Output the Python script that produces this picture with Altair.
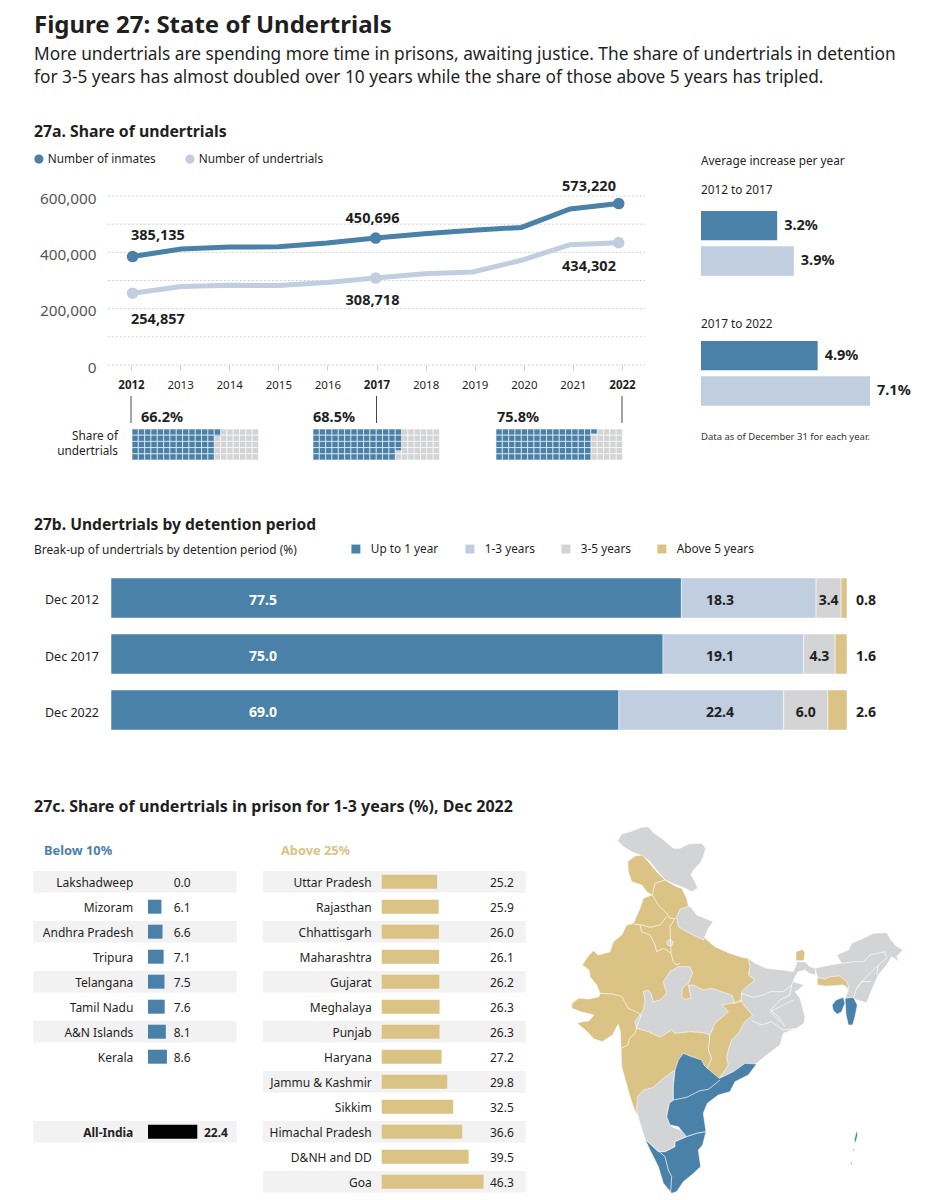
import altair as alt
import pandas as pd

FONT = "Noto Sans"
INK = "#1f1f1f"
BLUE = "#4A81A8"
LIGHT = "#C0CEDF"
GRAY = "#D3D4D6"
GOLD = "#DBC285"
STRIPE = "#F2F2F2"
TOTAL_W, TOTAL_H = 917, 1192

# ---------- data ----------
years = [2012, 2013, 2014, 2015, 2016, 2017, 2018, 2019, 2020, 2021, 2022]
inmates = [385135, 411992, 418536, 419623, 433003, 450696, 466084, 478600, 488511, 554034, 573220]
undertrials = [254857, 278503, 282879, 282076, 293058, 308718, 323537, 330487, 371848, 427165, 434302]
key_years = [2012, 2017, 2022]
shares = [66.2, 68.5, 75.8]
grid_values = [0, 100000, 200000, 300000, 400000, 500000, 600000]
increase_a = [3.2, 3.9]
increase_b = [4.9, 7.1]
periods = ["Dec 2012", "Dec 2017", "Dec 2022"]
up_to_1 = [77.5, 75.0, 69.0]
one_to_3 = [18.3, 19.1, 22.4]
three_to_5 = [3.4, 4.3, 6.0]
above_5 = [0.8, 1.6, 2.6]
detention = ["Up to 1 year", "1-3 years", "3-5 years", "Above 5 years"]
below_names = ["Lakshadweep", "Mizoram", "Andhra Pradesh", "Tripura", "Telangana", "Tamil Nadu", "A&N Islands", "Kerala"]
below_values = [0.0, 6.1, 6.6, 7.1, 7.5, 7.6, 8.1, 8.6]
india_value = [22.4]
above_names = ["Uttar Pradesh", "Rajasthan", "Chhattisgarh", "Maharashtra", "Gujarat", "Meghalaya", "Punjab", "Haryana",
               "Jammu & Kashmir", "Sikkim", "Himachal Pradesh", "D&NH and DD", "Goa"]
above_values = [25.2, 25.9, 26.0, 26.1, 26.2, 26.3, 26.3, 27.2, 29.8, 32.5, 36.6, 39.5, 46.3]


# map outlines; each outline is given in the frame it was read from
def N(*p):
    return [(565 + x / 3, 820 + y / 3) for x, y in p]


def S(*p):
    return [(620 + x / 3, 1000 + y / 3) for x, y in p]


def E(*p):
    return [(730 + x / 3, 920 + y / 3) for x, y in p]


def M(*p):
    return [(560 + x / 2.95, 815 + y / 3) for x, y in p]


map_shapes = [
    ("gray", N((158,62),(170,42),(195,35),(230,22),(250,20),(265,38),(290,55),(310,72),(325,85),(345,85),(370,72),(410,70),(422,85),(415,110),(405,130),(385,150),(378,165),(390,185),(398,205),(380,215),(360,205),(335,195),(300,180),(275,150),(250,120),(225,105),(200,95),(175,80))),
    ("gray", E((30,150),(55,115),(75,130),(110,145),(155,150),(190,155),(200,130),(198,125),(225,125),(240,140),(258,145),(255,165),(238,160),(225,150),(205,155),(195,170),(190,185),(205,190),(222,195),(205,210),(195,215),(210,235),(225,290),(222,310)) + S((530,85),(490,100),(480,135),(440,165),(410,190),(298,235),(280,100))),
    ("gray", E((255,145),(300,135),(335,130),(320,105),(355,90),(365,70),(400,55),(430,40),(470,38),(480,55),(495,75),(518,90),(500,110),(508,125),(485,110),(470,135),(445,165),(425,210),(410,248),(380,240),(370,235),(345,235),(355,210),(340,195),(300,198),(262,195),(262,170))),
    ("gold", N((188,125),(210,108),(232,105),(250,125),(275,155),(300,180),(335,200),(350,205),(365,235),(372,265),(420,355),(450,380),(490,398),(530,412),(550,415),(555,440),(550,465),(570,480),(545,500),(530,515),(528,545))
             + S((340,10),(362,0),(375,20),(398,45),(375,65),(355,100),(335,120),(325,150),(320,170),(325,195),(305,225),(298,235),(260,260),(120,290),(55,338),(48,340),(40,320),(30,290),(5,200))
             + M((180,700),(178,650),(172,628),(165,640),(155,660),(125,680),(100,672),(75,645),(50,625),(65,620),(85,618),(100,600),(60,590),(35,580),(35,565),(55,550),(85,552),(115,545))
             + N((105,520),(95,495),(75,470),(72,450),(52,435),(68,410),(85,392),(100,405),(135,395),(145,365),(170,345),(185,315),(205,310),(225,265),(235,235),(260,225),(245,215),(230,195),(200,185),(190,155))),
    ("gray", N((345,268),(372,258),(380,265),(395,285),(420,295),(445,305),(430,325),(415,360),(395,350),(365,335),(340,320),(335,290))),
    ("gray", N((305,365),(315,358),(325,365),(320,378),(308,375))),
    ("gray", N((235,515),(250,510),(258,520),(265,545),(285,540),(305,520),(300,505),(295,485),(315,455),(340,440),(375,440),(383,460),(370,490),(352,505),(350,530),(360,538),(378,535),(370,495),(385,495),(415,510),(440,505),(470,515),(500,525),(510,548))
             + S((305,15),(325,35),(285,70),(270,105),(250,98),(210,95),(165,100),(155,90),(120,112),(85,95),(50,85),(45,65),(70,30),(75,0))),
    ("gold", E((198,95),(218,88),(225,100),(222,122),(198,122))),
    ("gold", E((262,172),(285,178),(300,170),(330,168),(350,185),(358,205),(340,195),(310,197),(285,198),(262,195))),
    ("blue", E((306,255),(318,240),(340,232),(345,250),(335,275),(322,283),(310,272))),
    ("blue", E((345,235),(370,232),(382,255),(375,290),(368,315),(355,315),(348,285))),
    ("gray", S((50,335),(52,290),(70,270),(100,262),(130,235),(165,210),(160,260),(160,300),(148,310),(140,350),(155,380),(195,395),(200,410),(165,425),(165,440),(135,455),(115,455),(75,418),(62,375))),
    ("blue", S((190,160),(215,170),(245,180),(252,195),(262,205),(298,235),(340,215),(375,190),(410,192),(385,225),(345,245),(330,275),(295,285),(262,310),(250,340),(258,395),(230,400),(200,410),(175,380),(150,375),(140,350),(148,310),(160,300),(160,260),(165,210),(175,180))),
    ("blue", S((75,418),(115,455),(135,455),(165,440),(165,425),(200,410),(230,400),(258,395),(248,435),(235,450),(242,500),(215,525),(190,545),(170,575),(155,580),(130,550),(115,500),(90,450))),
    ("blue", M((875,945),(878,960),(872,985),(868,975))),
    ("blue", M((865,1000),(868,1005),(863,1010))),
    ("blue", M((858,1040),(862,1045),(858,1050))),
]
map_borders = [
    N((300,180),(270,190),(262,225),(280,255),(305,280),(315,295),(330,295)),
    N((205,312),(230,315),(255,322),(285,315),(305,290)),
    N((225,315),(230,335),(255,345),(270,375),(275,395),(295,385),(305,390),(318,400),(325,425),(335,435),(345,430)),
    N((330,295),(315,320),(318,400)),
    N((105,520),(145,522),(170,530),(190,565)) + M((225,590),(240,600),(228,630),(222,655),(205,670),(200,690),(180,700)),
    S((270,105),(265,150),(275,175),(262,205)),
    E((35,220),(70,232),(100,225),(120,215),(160,215),(185,195),(190,185)),
    E((185,195),(180,225),(150,240),(122,270),(145,290),(165,320)),
    S((395,62),(425,75),(455,65),(490,90),(525,85)),
    S((450,35),(480,20),(520,0)),
    S((450,35),(480,65)),
    E((335,130),(370,125),(400,125),(420,105),(465,95),(470,115),(445,135),(425,155),(400,180),(380,205),(370,235)),
    E((445,135),(440,165)),
    E((380,205),(395,185),(425,185)),
    S((118,455),(135,470),(145,510),(155,530),(152,575)),
    S((160,300),(200,292),(240,272),(265,268),(300,240)),
]


def px(v):
    return v - 8


def text(t, x, y, size=12, weight="normal", color=INK, align="left"):
    return (alt.Chart(pd.DataFrame({"t": [t]}))
            .mark_text(font=FONT, fontSize=size, fontWeight=weight, color=color, align=align, baseline="middle")
            .encode(x=alt.value(px(x)), y=alt.value(px(y + 1)), text="t:N"))


layers = []

# ---------- headings ----------
layers += [
    text("Figure 27: State of Undertrials", 34, 25, 24, "bold"),
    text("More undertrials are spending more time in prisons, awaiting justice. The share of undertrials in detention", 34, 54, 17.3),
    text("for 3-5 years has almost doubled over 10 years while the share of those above 5 years has tripled.", 34, 77, 17.3),
    text("27a. Share of undertrials", 34, 131, 15.8, "bold"),
    text("27b. Undertrials by detention period", 34, 524, 15.6, "bold"),
    text("27c. Share of undertrials in prison for 1-3 years (%), Dec 2022", 34, 806, 16, "bold"),
]

# ---------- 27a line chart ----------
y_line = alt.Scale(domain=[0, 600000], range=[px(365), px(196)])
x_line = alt.Scale(domain=[2012, 2022], range=[px(132.6), px(618.7)])
x_ticks = alt.Scale(domain=[2012, 2022], range=[px(131), px(622)])

layers.append(
    alt.Chart(pd.DataFrame({"v": grid_values})).mark_rule(strokeDash=[2, 2], color="#c9c9c9", strokeWidth=0.9).encode(
        y=alt.Y("v:Q", scale=y_line, axis=alt.Axis(
            values=[0, 200000, 400000, 600000], format=",d", orient="left", offset=-px(100), title=None,
            domain=False, ticks=False, grid=False, labelPadding=4, labelFont=FONT, labelFontSize=15.3,
            labelOffset=2, labelColor="#555555")),
        x=alt.value(px(107.7)), x2=alt.value(px(644.8)))
)
layers.append(
    alt.Chart(pd.DataFrame({"year": key_years})).mark_rule(color="#333333", strokeWidth=0.9).encode(
        x=alt.X("year:Q", scale=x_ticks, axis=alt.Axis(
            values=years, format="d", orient="bottom", offset=-(TOTAL_H - px(365)), title=None, domain=False,
            grid=False, tickSize=5, tickColor="#cccccc", labelPadding=9, labelFont=FONT, labelFontSize=11.5,
            labelColor=INK, labelFlush=False,
            labelFontWeight=alt.expr("indexof([2012,2017,2022],datum.value)>=0?'bold':'normal'"))),
        y=alt.value(px(396)), y2=alt.value(px(423)))
)
long_line = pd.DataFrame({
    "year": years * 2,
    "value": inmates + undertrials,
    "series": ["Number of inmates"] * len(years) + ["Number of undertrials"] * len(years),
})
series_scale = alt.Scale(domain=["Number of inmates", "Number of undertrials"], range=[BLUE, LIGHT])
layers.append(
    alt.Chart(long_line).mark_line(strokeWidth=5, interpolate="linear").encode(
        x=alt.X("year:Q", scale=x_line, axis=None), y=alt.Y("value:Q", scale=y_line, axis=None),
        color=alt.Color("series:N", scale=series_scale, legend=None), detail="series:N")
)
layers.append(
    alt.Chart(long_line[long_line.year.isin(key_years)]).mark_circle(size=135, opacity=1).encode(
        x=alt.X("year:Q", scale=x_line, axis=None), y=alt.Y("value:Q", scale=y_line, axis=None),
        color=alt.Color("series:N", scale=series_scale, legend=alt.Legend(
            orient="none", legendX=px(33), legendY=px(153), direction="horizontal", title=None, symbolType="circle",
            symbolSize=85, symbolOpacity=1, labelFont=FONT, labelFontSize=11.8, labelColor=INK, columnPadding=28,
            labelOffset=3)))
)
for t, x, y, a in [("385,135", 131, 235, "left"), ("450,696", 372.5, 217.5, "center"), ("573,220", 589, 186, "center"),
                   ("254,857", 131, 318.7, "left"), ("308,718", 372.5, 300, "center"), ("434,302", 589, 266, "center")]:
    layers.append(text(t, x, y, 14.5, "bold", align=a))

# waffles
for share, x0, lx in zip(shares, [132, 313, 496], [141, 313, 497]):
    cells = []
    for c in range(20):
        for r in range(5):
            frac = max(0.0, min(1.0, share - 5 * c - r))
            cells.append({"c": c, "c2": c + 1, "r": r, "r2": r + 1, "rf": r + frac, "frac": frac})
    df = pd.DataFrame(cells)
    xs = alt.Scale(domain=[0, 20], range=[px(x0), px(x0 + 126.5)])
    ys = alt.Scale(domain=[0, 5], range=[px(429), px(460)])
    layers.append(alt.Chart(df).mark_rect(color=GRAY, stroke="white", strokeWidth=0.6).encode(
        x=alt.X("c:Q", scale=xs, axis=None), x2="c2:Q", y=alt.Y("r:Q", scale=ys, axis=None), y2="r2:Q"))
    layers.append(alt.Chart(df[df.frac > 0]).mark_rect(color=BLUE, stroke="white", strokeWidth=0.6).encode(
        x=alt.X("c:Q", scale=xs, axis=None), x2="c2:Q", y=alt.Y("r:Q", scale=ys, axis=None), y2="rf:Q"))
    layers.append(text(f"{share}%", lx, 417, 14.5, "bold"))
layers += [text("Share of", 118, 435, 11.8, align="right"), text("undertrials", 118, 449.5, 11.8, align="right")]

# average increase bars
x_inc = alt.Scale(domain=[0, 7.1], range=[px(701), px(870)])
for vals, top, bottom, title, ty in [(increase_a, 211, 275.7, "2012 to 2017", 189), (increase_b, 341, 405.7, "2017 to 2022", 323)]:
    df = pd.DataFrame({"k": ["Inmates", "Undertrials"], "v": vals, "label": [f"{v}%" for v in vals]})
    ys = alt.Scale(type="band", domain=["Inmates", "Undertrials"], range=[px(top), px(bottom)], paddingInner=0.17, paddingOuter=0)
    layers.append(alt.Chart(df).mark_bar().encode(
        x=alt.X("v:Q", scale=x_inc, axis=None), y=alt.Y("k:N", scale=ys, axis=None, sort=None),
        color=alt.Color("k:N", scale=alt.Scale(domain=["Inmates", "Undertrials"], range=[BLUE, LIGHT]), legend=None)))
    layers.append(alt.Chart(df).mark_text(font=FONT, fontSize=14.5, fontWeight="bold", color=INK, align="left", dx=7).encode(
        x=alt.X("v:Q", scale=x_inc, axis=None), y=alt.Y("k:N", scale=ys, axis=None, sort=None), text="label:N"))
    layers.append(text(title, 701, ty, 11.8))
layers += [text("Average increase per year", 701, 160, 11.8),
           text("Data as of December 31 for each year.", 701, 436, 9.5, color="#333333")]

# ---------- 27b stacked bars ----------
layers.append(text("Break-up of undertrials by detention period (%)", 34, 549, 11.9))
rows = []
for i, p in enumerate(periods):
    start = 0.0
    for name, series in zip(detention, [up_to_1, one_to_3, three_to_5, above_5]):
        v = series[i]
        rows.append({"p": p, "d": name, "v": v, "s": start, "e": start + v, "m": start + v / 2, "t": f"{v:.1f}"})
        start += v
stack = pd.DataFrame(rows)
x_stack = alt.Scale(domain=[0, 100], range=[px(111), px(847)])
y_stack = alt.Scale(type="band", domain=periods, range=[px(578), px(730)], paddingInner=0.286, paddingOuter=0)
Y_st = alt.Y("p:N", scale=y_stack, axis=None, sort=None)
layers.append(alt.Chart(stack).mark_bar(stroke="white", strokeWidth=0.5).encode(
    x=alt.X("s:Q", scale=x_stack, axis=None), x2="e:Q", y=Y_st,
    color=alt.Color("d:N", scale=alt.Scale(domain=detention, range=[BLUE, LIGHT, GRAY, GOLD]), legend=alt.Legend(
        orient="none", legendX=px(350), legendY=px(543), direction="horizontal", title=None, symbolType="square",
        symbolSize=80, symbolStrokeWidth=0, labelFont=FONT, labelFontSize=11.8, labelColor=INK, columnPadding=25,
        labelOffset=9))))
layers.append(alt.Chart(pd.DataFrame({"p": periods})).mark_text(font=FONT, fontSize=12.5, color=INK, align="right", dy=2.5).encode(
    x=alt.value(px(99)), y=Y_st, text="p:N"))
for name, xv, col in [("Up to 1 year", 263, "white"), ("1-3 years", 720, INK), ("Above 5 years", 866, INK)]:
    layers.append(alt.Chart(stack[stack.d == name]).mark_text(font=FONT, fontSize=14, fontWeight="bold", color=col, dy=3).encode(
        x=alt.value(px(xv)), y=Y_st, text="t:N"))
layers.append(alt.Chart(stack[stack.d == "3-5 years"]).mark_text(font=FONT, fontSize=14, fontWeight="bold", color=INK, dy=3).encode(
    x=alt.X("m:Q", scale=x_stack, axis=None), y=Y_st, text="t:N"))


# ---------- 27c tables ----------
def table(order, values, stripes, left, right, name_x, bar_x, val_x, color, bold_rows=()):
    ys = alt.Scale(type="band", domain=order, range=[px(871), px(1192.4)], paddingInner=0.144, paddingOuter=0)
    Y = alt.Y("n:N", scale=ys, axis=None, sort=None)
    xs = alt.Scale(domain=[0, 50], range=[px(bar_x), px(bar_x + 110)])
    out = [alt.Chart(pd.DataFrame({"n": stripes})).mark_bar(color=STRIPE).encode(
        x=alt.value(px(left)), x2=alt.value(px(right)), y=Y)]
    df = pd.DataFrame({"n": list(values.keys()), "v": list(values.values())})
    df["t"] = df.v.map(lambda v: f"{v:.1f}")
    plain = df[~df.n.isin(bold_rows)]
    out.append(alt.Chart(plain[plain.v > 0]).mark_bar(height=14, color=color).encode(
        x=alt.X("v:Q", scale=xs, axis=None), y=Y))
    out.append(alt.Chart(plain).mark_text(font=FONT, fontSize=12, color=INK, align="right", dy=1).encode(
        x=alt.value(px(name_x)), y=Y, text="n:N"))
    out.append(alt.Chart(plain).mark_text(font=FONT, fontSize=12, color=INK, align="left", dy=1).encode(
        x=alt.value(px(val_x)), y=Y, text="t:N"))
    bold = df[df.n.isin(bold_rows)]
    if len(bold):
        out.append(alt.Chart(bold).mark_bar(height=14, color="black").encode(
            x=alt.X("v:Q", scale=xs, axis=None), y=Y))
        out.append(alt.Chart(bold).mark_text(font=FONT, fontSize=12, fontWeight="bold", color=INK, align="right", dy=1).encode(
            x=alt.value(px(name_x)), y=Y, text="n:N"))
        out.append(alt.Chart(bold).mark_text(font=FONT, fontSize=12, fontWeight="bold", color=INK, align="left", dy=1).encode(
            x=alt.value(px(204)), y=Y, text="t:N"))
    return out


left_order = below_names + ["gap1", "gap2", "All-India", "gap3", "gap4"]
left_values = dict(zip(below_names, below_values))
left_values["All-India"] = india_value[0]
left_stripes = below_names[0::2] + ["All-India"]
layers += table(left_order, left_values, left_stripes, 33.3, 236.7, 133.3, 148, 173.7, BLUE, bold_rows=("All-India",))
layers += table(above_names, dict(zip(above_names, above_values)), above_names[0::2], 263, 525.7, 371.7, 381.7, 490, GOLD)
layers += [text("Below 10%", 44, 850, 12.8, "bold", BLUE), text("Above 25%", 281, 850, 12.8, "bold", GOLD)]

# ---------- map ----------
map_proj = dict(type="identity", scale=1, translate=[-8, -8])
polygons = [{"type": "Feature", "properties": {"g": g},
             "geometry": {"type": "Polygon", "coordinates": [[list(p) for p in pts] + [list(pts[0])]]}}
            for g, pts in map_shapes]
borders = [{"type": "Feature", "properties": {"g": "border"},
            "geometry": {"type": "LineString", "coordinates": [list(p) for p in pts]}}
           for pts in map_borders]
for feature in polygons:
    layers.append(
        alt.Chart(alt.Data(values=[feature])).mark_geoshape(
            stroke="white", strokeWidth=0.6,
            fill={"gray": GRAY, "gold": GOLD, "blue": BLUE}[feature["properties"]["g"]]
        ).project(**map_proj)
    )
layers.append(
    alt.Chart(alt.Data(values=borders)).mark_geoshape(filled=False, stroke="white", strokeWidth=0.7).project(**map_proj)
)

chart = alt.layer(*layers).resolve_scale(
    x="independent", y="independent", color="independent"
).properties(
    width=TOTAL_W, height=TOTAL_H, padding=0, autosize=alt.AutoSizeParams(type="none")
).configure_view(stroke=None)

chart.save("out.html", embed_options={"renderer": "svg", "actions": False})
